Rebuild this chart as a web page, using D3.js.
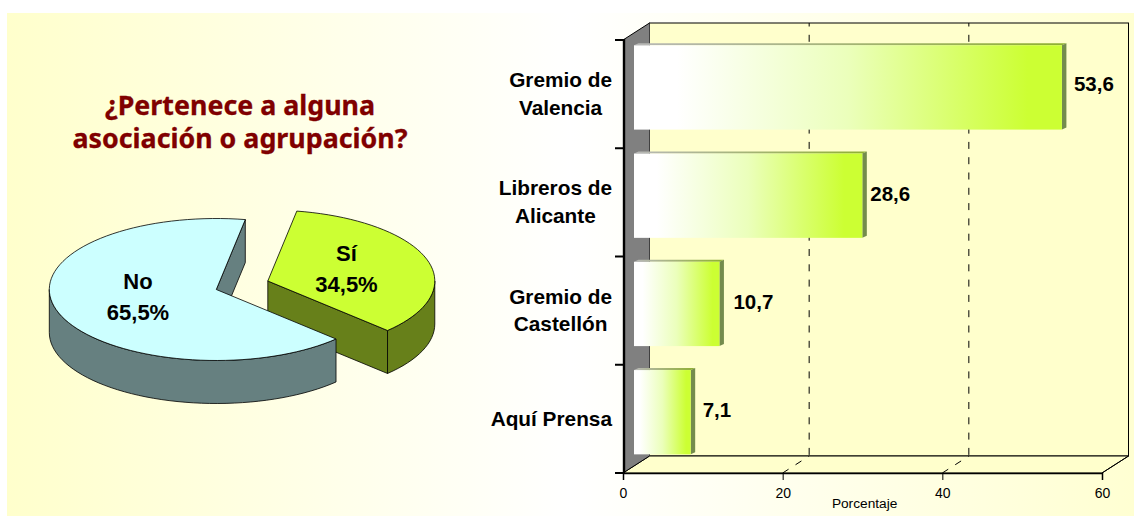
<!DOCTYPE html>
<html>
<head>
<meta charset="utf-8">
<script src="https://cdn.jsdelivr.net/npm/d3@7"></script>
<style>
  html, body { margin: 0; padding: 0; background: #fff; }
  svg { display: block; }
  text { font-family: "Liberation Sans", Arial, sans-serif; fill: #000; }
</style>
</head>
<body>
<div id="chart"></div>
<script>
const titleLines = ["¿Pertenece a alguna", "asociación o agrupación?"];

const pieNames = ["Sí", "No"];
const pieValues = [34.5, 65.5];
const pieLabels = ["34,5%", "65,5%"];

const categoryLines = [
    ["Gremio de", "Valencia"],
    ["Libreros de", "Alicante"],
    ["Gremio de", "Castellón"],
    ["Aquí Prensa"]
];
const barValues = [53.6, 28.6, 10.7, 7.1];
const barLabels = ["53,6", "28,6", "10,7", "7,1"];
const xTicks = [0, 20, 40, 60];
const gridTicks = [20, 40];
const xAxisTitle = "Porcentaje";

const width = 1134;
const height = 516;

const svg = d3.select("#chart")
    .append("svg")
    .attr("width", width)
    .attr("height", height);

const defs = svg.append("defs");

// Panel background fades to white in the middle
const panelGradient = defs.append("linearGradient").attr("id", "panel-gradient");
panelGradient.selectAll("stop")
    .data([[0, "#ffffcc"], [0.5, "#ffffff"], [1, "#ffffd2"]])
    .enter().append("stop")
    .attr("offset", d => d[0])
    .attr("stop-color", d => d[1]);

const barGradient = defs.append("linearGradient").attr("id", "bar-gradient");
barGradient.selectAll("stop")
    .data([[0.1, "#ffffff"], [0.5, "#ebffbb"], [0.92, "#ccff33"]])
    .enter().append("stop")
    .attr("offset", d => d[0])
    .attr("stop-color", d => d[1]);

const barTopGradient = defs.append("linearGradient").attr("id", "bar-top-gradient");
barTopGradient.selectAll("stop")
    .data([[0, "#b8b8b8"], [1, "#8fb030"]])
    .enter().append("stop")
    .attr("offset", d => d[0])
    .attr("stop-color", d => d[1]);

svg.append("rect")
    .attr("x", 7)
    .attr("y", 13)
    .attr("width", width - 7)
    .attr("height", height - 13)
    .attr("fill", "url(#panel-gradient)");

// ---- Left: title and 3D pie ----

svg.append("g")
    .selectAll("text")
    .data(titleLines)
    .enter().append("text")
    .attr("x", 240)
    .attr("y", (d, i) => 115 + i * 33)
    .attr("text-anchor", "middle")
    .style("font-family", "'Noto Sans', sans-serif")
    .style("font-weight", "bold")
    .style("font-size", "26.8px")
    .style("fill", "#800000")
    .style("stroke", "#800000")
    .style("stroke-width", 0.3)
    .text(d => d);

const pieCenter = [216.3, 289.5];
const pieRx = 167;
const pieRy = 71;
const pieDepth = 43;
const explodeOffset = [[51.5, -8.5], [0, 0]];
const pieTopColors = ["#ccff33", "#ccffff"];
const pieSideColors = ["#67801a", "#668080"];
const pieLabelPos = [[346.5, 260.7], [138, 288.7]];

const pieStart = 10 * Math.PI / 180;
const slices = d3.pie()
    .sort(null)
    .startAngle(pieStart)
    .endAngle(pieStart + 2 * Math.PI)(pieValues);

// Angle is clockwise from twelve o'clock, same as d3.pie
function rimPoint(c, a, drop = 0) {
    return [c[0] + pieRx * Math.sin(a), c[1] - pieRy * Math.cos(a) + drop];
}

function rimPoints(c, a0, a1, drop = 0) {
    const steps = Math.max(2, Math.ceil(Math.abs(a1 - a0) / 0.05));
    return d3.range(steps + 1).map(i => rimPoint(c, a0 + (a1 - a0) * i / steps, drop));
}

const polygon = d3.line().curve(d3.curveLinearClosed);

const pieGroup = svg.append("g")
    .attr("stroke", "#000")
    .attr("stroke-width", 0.8)
    .attr("stroke-linejoin", "round");

slices.forEach((slice, i) => {
    const c = [pieCenter[0] + explodeOffset[i][0], pieCenter[1] + explodeOffset[i][1]];

    // Cut face on the closing edge
    const endPt = rimPoint(c, slice.endAngle);
    pieGroup.append("path")
        .attr("fill", pieSideColors[i])
        .attr("d", polygon([c, endPt, [endPt[0], endPt[1] + pieDepth], [c[0], c[1] + pieDepth]]));

    // Outer wall, only the part that faces the viewer
    const wall0 = Math.max(slice.startAngle, Math.PI / 2);
    const wall1 = Math.min(slice.endAngle, 3 * Math.PI / 2);
    if (wall1 > wall0) {
        pieGroup.append("path")
            .attr("fill", pieSideColors[i])
            .attr("d", polygon(rimPoints(c, wall0, wall1).concat(rimPoints(c, wall1, wall0, pieDepth))));
    }

    pieGroup.append("path")
        .attr("fill", pieTopColors[i])
        .attr("d", polygon([c].concat(rimPoints(c, slice.startAngle, slice.endAngle))));
});

const pieText = svg.append("g")
    .attr("text-anchor", "middle")
    .style("font-weight", "bold")
    .style("font-size", "22px");

pieNames.forEach((name, i) => {
    pieText.append("text").attr("x", pieLabelPos[i][0]).attr("y", pieLabelPos[i][1]).text(name);
    pieText.append("text").attr("x", pieLabelPos[i][0]).attr("y", pieLabelPos[i][1] + 31).text(pieLabels[i]);
});

// ---- Right: 3D horizontal bars ----

const x = d3.scaleLinear().domain([0, 60]).range([623, 1102]);
const y = d3.scaleBand().domain(d3.range(categoryLines.length)).range([40, 473]);

const wallDx = 26.5;
const wallDy = -17;
const wallTop = y.range()[0] + wallDy;
const floorY = y.range()[1];
const backY = floorY + wallDy;
const backLeft = x(0) + wallDx;
const backRight = x(60) + wallDx;

const plot = svg.append("g");

plot.append("rect")
    .attr("x", backLeft)
    .attr("y", wallTop)
    .attr("width", backRight - backLeft)
    .attr("height", backY - wallTop)
    .attr("fill", "#ffffcc")
    .attr("stroke", "#000");

plot.append("path")
    .attr("fill", "#ffffcc")
    .attr("stroke", "#000")
    .attr("d", polygon([[x(0), floorY], [backLeft, backY], [backRight, backY], [x(60), floorY]]));

// Left wall
plot.append("path")
    .attr("fill", "#808080")
    .attr("d", polygon([[x(0), y.range()[0]], [backLeft, wallTop], [backLeft, backY], [x(0), floorY]]));
plot.append("line")
    .attr("x1", x(0))
    .attr("y1", y.range()[0])
    .attr("x2", backLeft)
    .attr("y2", wallTop)
    .attr("stroke", "#000");
plot.append("line")
    .attr("x1", backLeft)
    .attr("y1", backY)
    .attr("x2", x(0))
    .attr("y2", floorY)
    .attr("stroke", "#000");

// Dashed gridlines on the back wall and floor
const grid = plot.append("g")
    .attr("stroke", "#000")
    .attr("stroke-dasharray", "7,8.3");
grid.selectAll(".wall-grid")
    .data(gridTicks)
    .enter().append("line")
    .attr("class", "wall-grid")
    .attr("stroke-dashoffset", 3.5)
    .attr("x1", d => x(d) + wallDx)
    .attr("x2", d => x(d) + wallDx)
    .attr("y1", wallTop)
    .attr("y2", backY);
grid.selectAll(".floor-grid")
    .data(gridTicks)
    .enter().append("line")
    .attr("class", "floor-grid")
    .attr("x1", d => x(d))
    .attr("y1", floorY)
    .attr("x2", d => x(d) + wallDx)
    .attr("y2", backY);

// Right end of the floor
plot.append("line")
    .attr("x1", x(60))
    .attr("y1", floorY)
    .attr("x2", backRight)
    .attr("y2", backY)
    .attr("stroke", "#000");

// Bars
const barInset = 11;
const barTopPad = 5.3;
const barHeight = 84.3;
const barDx = 4.5;
const barDy = -2;
const barX0 = x(0) + barInset;
const barRight = v => barX0 + x(v) - x(0);

const bars = plot.selectAll(".bar")
    .data(barValues)
    .enter().append("g")
    .attr("class", "bar");

bars.append("path")
    .attr("fill", "url(#bar-top-gradient)")
    .attr("d", (d, i) => {
        const top = y(i) + barTopPad;
        return polygon([[barX0, top], [barX0 + barDx, top + barDy], [barRight(d) + barDx, top + barDy], [barRight(d), top]]);
    });

bars.append("path")
    .attr("fill", "#748c4c")
    .attr("d", (d, i) => {
        const top = y(i) + barTopPad;
        return polygon([[barRight(d), top], [barRight(d) + barDx, top + barDy],
            [barRight(d) + barDx, top + barHeight + barDy], [barRight(d), top + barHeight]]);
    });

bars.append("rect")
    .attr("x", barX0)
    .attr("y", (d, i) => y(i) + barTopPad)
    .attr("width", d => barRight(d) - barX0)
    .attr("height", barHeight)
    .attr("fill", "url(#bar-gradient)");

// Value labels sit a little unevenly in the original
const valueLabelDx = [12, 8, 14, 12];
const valueLabelDy = [50.7, 52.7, 52.8, 52.5];
plot.selectAll(".value-label")
    .data(barLabels)
    .enter().append("text")
    .attr("class", "value-label")
    .attr("x", (d, i) => barRight(barValues[i]) + valueLabelDx[i])
    .attr("y", (d, i) => y(i) + valueLabelDy[i])
    .style("font-weight", "bold")
    .style("font-size", "20.5px")
    .text(d => d);

// Axes
const yAxisGroup = svg.append("g").attr("stroke", "#000");
yAxisGroup.append("line")
    .attr("x1", x(0) + 1)
    .attr("x2", x(0) + 1)
    .attr("y1", y.range()[0] - 1)
    .attr("y2", floorY + 1)
    .attr("stroke-width", 2.4);
yAxisGroup.selectAll(".y-tick")
    .data(d3.range(categoryLines.length + 1))
    .enter().append("line")
    .attr("class", "y-tick")
    .attr("x1", x(0) - 8)
    .attr("x2", x(0) + 1)
    .attr("y1", d => y.range()[0] + d * y.step())
    .attr("y2", d => y.range()[0] + d * y.step())
    .attr("stroke-width", 2);

const xAxis = svg.append("g")
    .attr("transform", `translate(0,${floorY})`)
    .call(d3.axisBottom(x).tickValues(xTicks).tickSize(7).tickPadding(7.6).tickFormat(d3.format("d")));
xAxis.select(".domain").attr("stroke-width", 1.5);
xAxis.selectAll("text").style("font-size", "14px").attr("fill", "#000");

svg.append("text")
    .attr("x", 864.6)
    .attr("y", 507.7)
    .attr("text-anchor", "middle")
    .style("font-size", "13.7px")
    .text(xAxisTitle);

// Category labels: each block is centred on itself and right-aligned to the axis
const categoryRight = 612;
const categoryGroups = svg.selectAll(".category")
    .data(categoryLines)
    .enter().append("g")
    .attr("class", "category");

categoryGroups.each(function(lines, i) {
    const g = d3.select(this);
    const firstLine = y(i) + (lines.length > 1 ? 47 : 61);
    const texts = g.selectAll("text")
        .data(lines)
        .enter().append("text")
        .attr("y", (d, j) => firstLine + j * 27.6)
        .attr("text-anchor", "middle")
        .style("font-weight", "bold")
        .style("font-size", "20.8px")
        .text(d => d);
    const widest = d3.max(texts.nodes(), n => n.getComputedTextLength());
    texts.attr("x", categoryRight - widest / 2);
});
</script>
</body>
</html>
